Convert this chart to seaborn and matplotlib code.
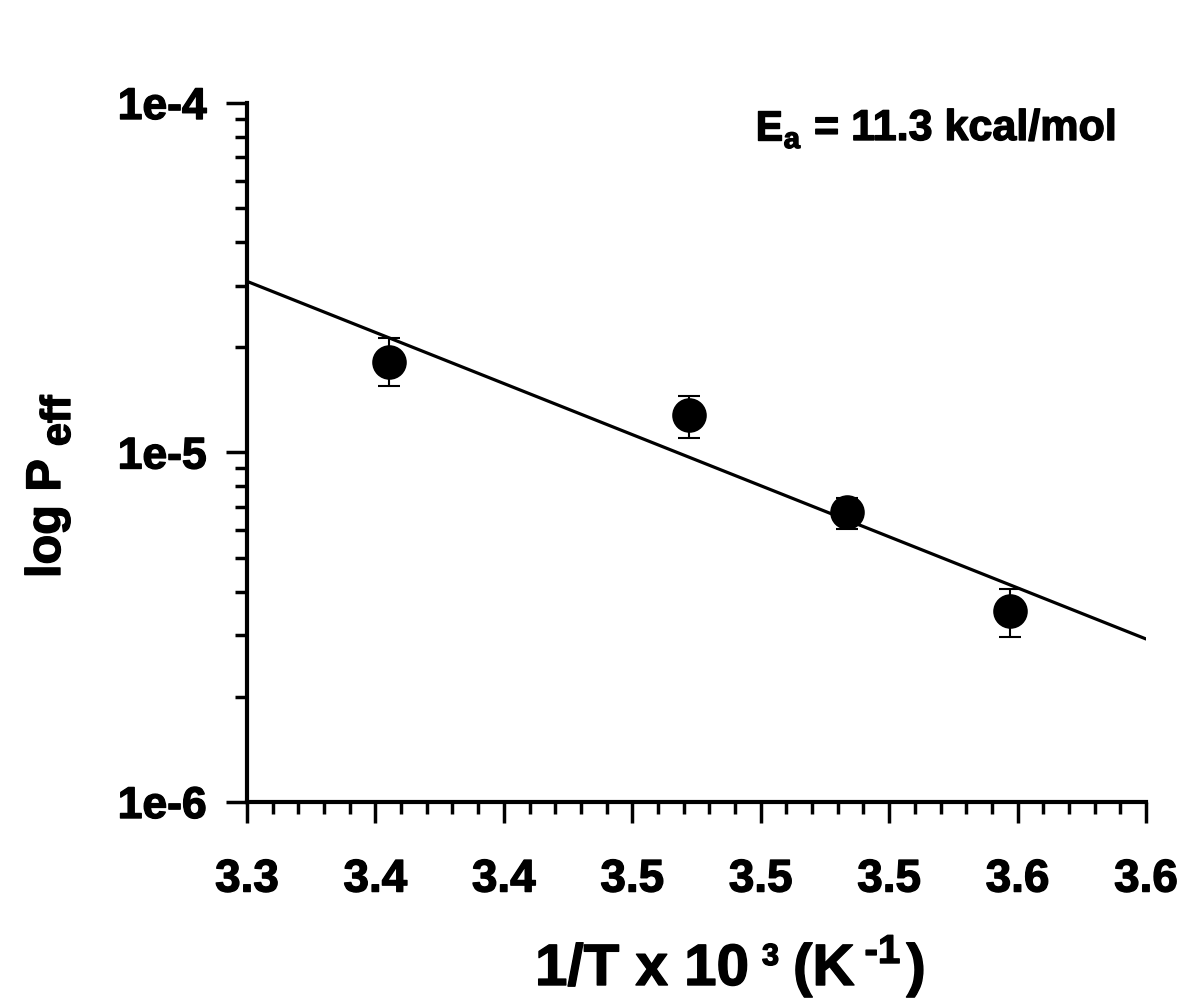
import numpy as np
import pandas as pd
import matplotlib
matplotlib.use("Agg")
import matplotlib.pyplot as plt
import matplotlib.patheffects as pe
import seaborn as sns
from matplotlib.ticker import FixedLocator, FixedFormatter, LogLocator, NullFormatter

# ---- data ----
inv_T = [3.3842, 3.4777, 3.5269, 3.5777]           # 1/T x 10^3 (K^-1)
p_eff = [1.82e-5, 1.28e-5, 6.74e-6, 3.52e-6]       # Peff
err_hi = [2.12e-5, 1.45e-5, 7.40e-6, 4.06e-6]      # upper error bar end
err_lo = [1.545e-5, 1.10e-5, 6.03e-6, 2.96e-6]     # lower error bar end
x_ticks = [3.34, 3.38, 3.42, 3.46, 3.50, 3.54, 3.58, 3.62]
x_tick_labels = ["3.3", "3.4", "3.4", "3.5", "3.5", "3.5", "3.6", "3.6"]
y_ticks = [1e-6, 1e-5, 1e-4]
y_tick_labels = ["1e-6", "1e-5", "1e-4"]

W, H = 1200, 1006
sns.set_theme(style="ticks")
plt.rcParams["font.family"] = ["Liberation Sans", "DejaVu Sans"]
plt.rcParams["font.weight"] = "bold"
FAT = [pe.withStroke(linewidth=1.0, foreground="black")]

df = pd.DataFrame({"x": inv_T, "y": p_eff})

# regression in log space
coef = np.polyfit(df["x"], np.log10(df["y"]), 1)
fit_x = np.array([x_ticks[0], x_ticks[-1]])
fit_df = pd.DataFrame({"x": fit_x, "y": 10 ** np.polyval(coef, fit_x)})

fig = plt.figure(figsize=(W / 100, H / 100), dpi=100)
ax = fig.add_axes([247 / W, 1 - 802 / H, (1146 - 247) / W, (802 - 103) / H])

sns.lineplot(data=fit_df, x="x", y="y", ax=ax, color="black", linewidth=2.3, zorder=2)
yerr = np.array([np.array(p_eff) - np.array(err_lo), np.array(err_hi) - np.array(p_eff)])
ax.errorbar(inv_T, p_eff, yerr=yerr, fmt="none", ecolor="black", elinewidth=1.5,
            capsize=8, capthick=1.5, zorder=3)
sns.scatterplot(data=df, x="x", y="y", ax=ax, color="black", s=620, edgecolor="black",
                linewidth=0, zorder=4)

ax.set_yscale("log")
ax.set_ylim(1e-6, 1e-4)
ax.set_xlim(x_ticks[0], x_ticks[-1])

ax.xaxis.set_major_locator(FixedLocator(x_ticks))
ax.xaxis.set_major_formatter(FixedFormatter(x_tick_labels))
ax.xaxis.set_minor_locator(FixedLocator(np.arange(3.34, 3.6201, 0.008)))
ax.yaxis.set_major_locator(FixedLocator(y_ticks))
ax.yaxis.set_major_formatter(FixedFormatter(y_tick_labels))
ax.yaxis.set_minor_locator(LogLocator(base=10, subs=np.arange(2, 10)))
ax.yaxis.set_minor_formatter(NullFormatter())

for s in ["top", "right"]:
    ax.spines[s].set_visible(False)
for s in ["left", "bottom"]:
    ax.spines[s].set_linewidth(3)
    ax.spines[s].set_color("black")

ax.tick_params(axis="both", which="major", direction="out", length=15, width=2.5,
               color="black", labelcolor="black")
ax.tick_params(axis="both", which="minor", direction="out", length=8.5, width=2.5,
               color="black")
ax.tick_params(axis="x", which="major", pad=25, labelsize=33)
ax.tick_params(axis="y", which="major", pad=14, labelsize=32)
for lab in ax.get_xticklabels() + ax.get_yticklabels():
    lab.set_fontweight("bold")
    lab.set_path_effects(FAT)
ax.set_xlabel("")
ax.set_ylabel("")

renderer = fig.canvas.get_renderer()


def chain(pieces, x0, y0, rotation=0):
    """pieces: (text, size, offset_px, gap_before_px); positions in top-left pixel coords."""
    pos = x0 if rotation == 0 else y0
    for text, size, off, gap in pieces:
        if rotation == 0:
            pos += gap
            t = fig.text(pos / W, 1 - (y0 - off) / H, text, fontsize=size,
                         fontweight="bold", ha="left", va="baseline", color="black",
                         path_effects=FAT)
            bb = t.get_window_extent(renderer)
            pos = bb.x1
        else:
            pos -= gap
            t = fig.text((x0 + off) / W, 1 - pos / H, text, fontsize=size,
                         fontweight="bold", ha="left", va="baseline", color="black",
                         rotation=90, rotation_mode="anchor", path_effects=FAT)
            bb = t.get_window_extent(renderer)
            pos = H - bb.y1


# x axis label: 1/T x 10^3 (K^-1)
chain([("1/T x 10", 42, 0, 0), ("3", 22, 20, 13), ("(K", 42, 0, 14),
       ("-1", 29, 22, 10), (")", 42, 0, 6)], 535, 985)
# y axis label: log P_eff
chain([("log P", 35, 0, 0), ("eff", 30, 10, 13)], 60, 578, rotation=90)
# activation energy annotation
chain([("E", 30, 0, 0), ("a", 21, -8, 1), ("= 11.3 kcal/mol", 31, 0, 14)], 755, 140)

fig.savefig("out.png", dpi=100)
